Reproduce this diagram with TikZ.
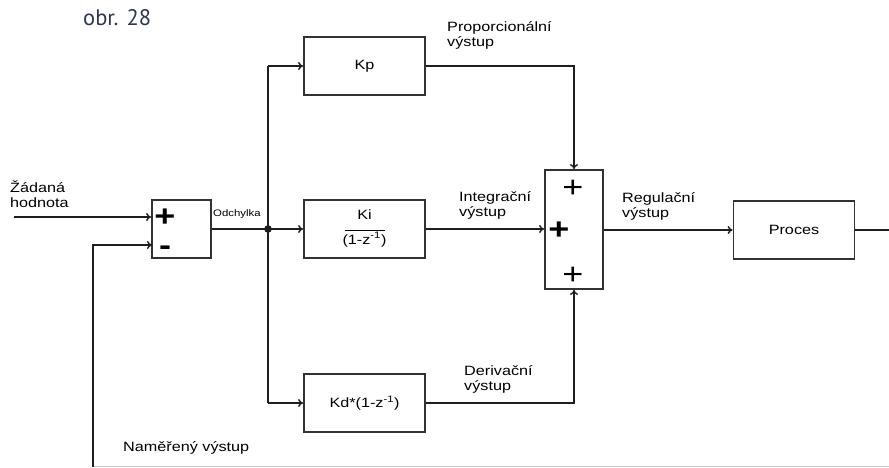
\documentclass[tikz,border=0pt]{standalone}
\usepackage{fontspec}
\setmainfont[FakeStretch=1.2]{Liberation Sans}
\newfontfamily\obrfont{PT Sans}
\usetikzlibrary{arrows.meta,calc}
\definecolor{boxc}{RGB}{50,50,50}
\definecolor{linec}{RGB}{30,30,30}
\definecolor{obrc}{RGB}{45,55,85}
\tikzset{
  blk/.style={draw=boxc, line width=1.8pt, minimum width=121pt, minimum height=58pt, inner sep=0pt, font=\fontsize{13.5}{15}\selectfont},
  sumblk/.style={draw=boxc, line width=1.8pt, minimum width=59pt, minimum height=58pt, inner sep=0pt},
  wire/.style={draw=linec, line width=1.4pt},
  arr/.style={wire, -{To[length=5pt,width=8pt]}},
  lbl/.style={anchor=north west, inner sep=0pt, align=left, font=\fontsize{13.5}{15}\selectfont},
  sgn/.style={inner sep=0pt, text height=0.6em, text depth=0pt, font=\fontsize{30}{30}\selectfont},
  bsgn/.style={sgn, font=\fontsize{30}{30}\selectfont\bfseries},
}
\begin{document}
\begin{tikzpicture}[x=1pt,y=-1pt]
\useasboundingbox (0,0) rectangle (889,468);
% title
\node[anchor=west, inner sep=0pt, text=obrc, font=\obrfont\fontsize{22.5}{22}\selectfont] (obr) at (83,18) {obr. 28};
% blocks
\node[sumblk] (sum1) at (181.5,229) {};
\node[bsgn] (p1) at (165,223) {+};
\node[bsgn] (m1) at (165,252) {-};
\node[blk] (kp) at (364.5,66) {Kp};
\node[blk] (ki) at (364.5,229) {\begin{tabular}{@{}c@{}}Ki\\[-4pt]\rule{40pt}{1pt}\\[-3pt](1-z\textsuperscript{-1})\end{tabular}};
\node[blk] (kd) at (364.5,403) {Kd*(1-z\textsuperscript{-1})};
\node[draw=boxc, line width=1.8pt, minimum width=58pt, minimum height=119pt, inner sep=0pt] (sum2) at (574,229.5) {};
\node[sgn] (p2a) at (573,194) {+};
\node[bsgn] (p2b) at (559,236) {+};
\node[sgn] (p2c) at (573,281) {+};
\node[blk] (proc) at (794,230) {Proces};
% junction
\fill[linec] (268,229) circle (3.8pt);
\coordinate (j) at (268,229);
\coordinate (jt) at (268,66);
\coordinate (jb) at (268,403);
\coordinate (in) at (14,217);
\coordinate (out) at (889,230);
\coordinate (fr) at (889,466.5);
\coordinate (fl) at (93,466.5);
\coordinate (fbin) at (152,245);
% labels
\node[lbl] (l0) at (10,181) {Žádaná\\hodnota};
\node[anchor=west, inner sep=0pt, font=\fontsize{9.5}{9}\selectfont] (odch) at (213,214) {Odchylka};
\node[lbl] (lp) at (447,21) {Proporcionální\\výstup};
\node[lbl] (li) at (459,191) {Integrační\\výstup};
\node[lbl] (ld) at (464,365) {Derivační\\výstup};
\node[lbl] (lr) at (622,192) {Regulační\\výstup};
\node[anchor=west, inner sep=0pt, font=\fontsize{13.5}{15}\selectfont] (ln) at (123,448) {Naměřený výstup};
% connectors
\draw[arr] (in) -- (in -| sum1.west);
\draw[wire] (sum1.east |- j) -- (j);
\draw[wire] (jt) -- (jb);
\draw[arr] (jt) -- (kp.west);
\draw[arr] (j) -- (ki.west);
\draw[arr] (jb) -- (kd.west);
\draw[arr] (kp.east) -| (sum2.north);
\draw[arr] (ki.east) -- (ki.east -| sum2.west);
\draw[arr] (kd.east) -| (sum2.south);
\draw[arr] (sum2.east |- proc) -- (proc.west);
\draw[wire] (proc.east) -- (out);
\draw[draw=gray!45, line width=1.2pt] (fr) -- (fl);
\draw[arr] (fl) |- (fbin);
\end{tikzpicture}
\end{document}
